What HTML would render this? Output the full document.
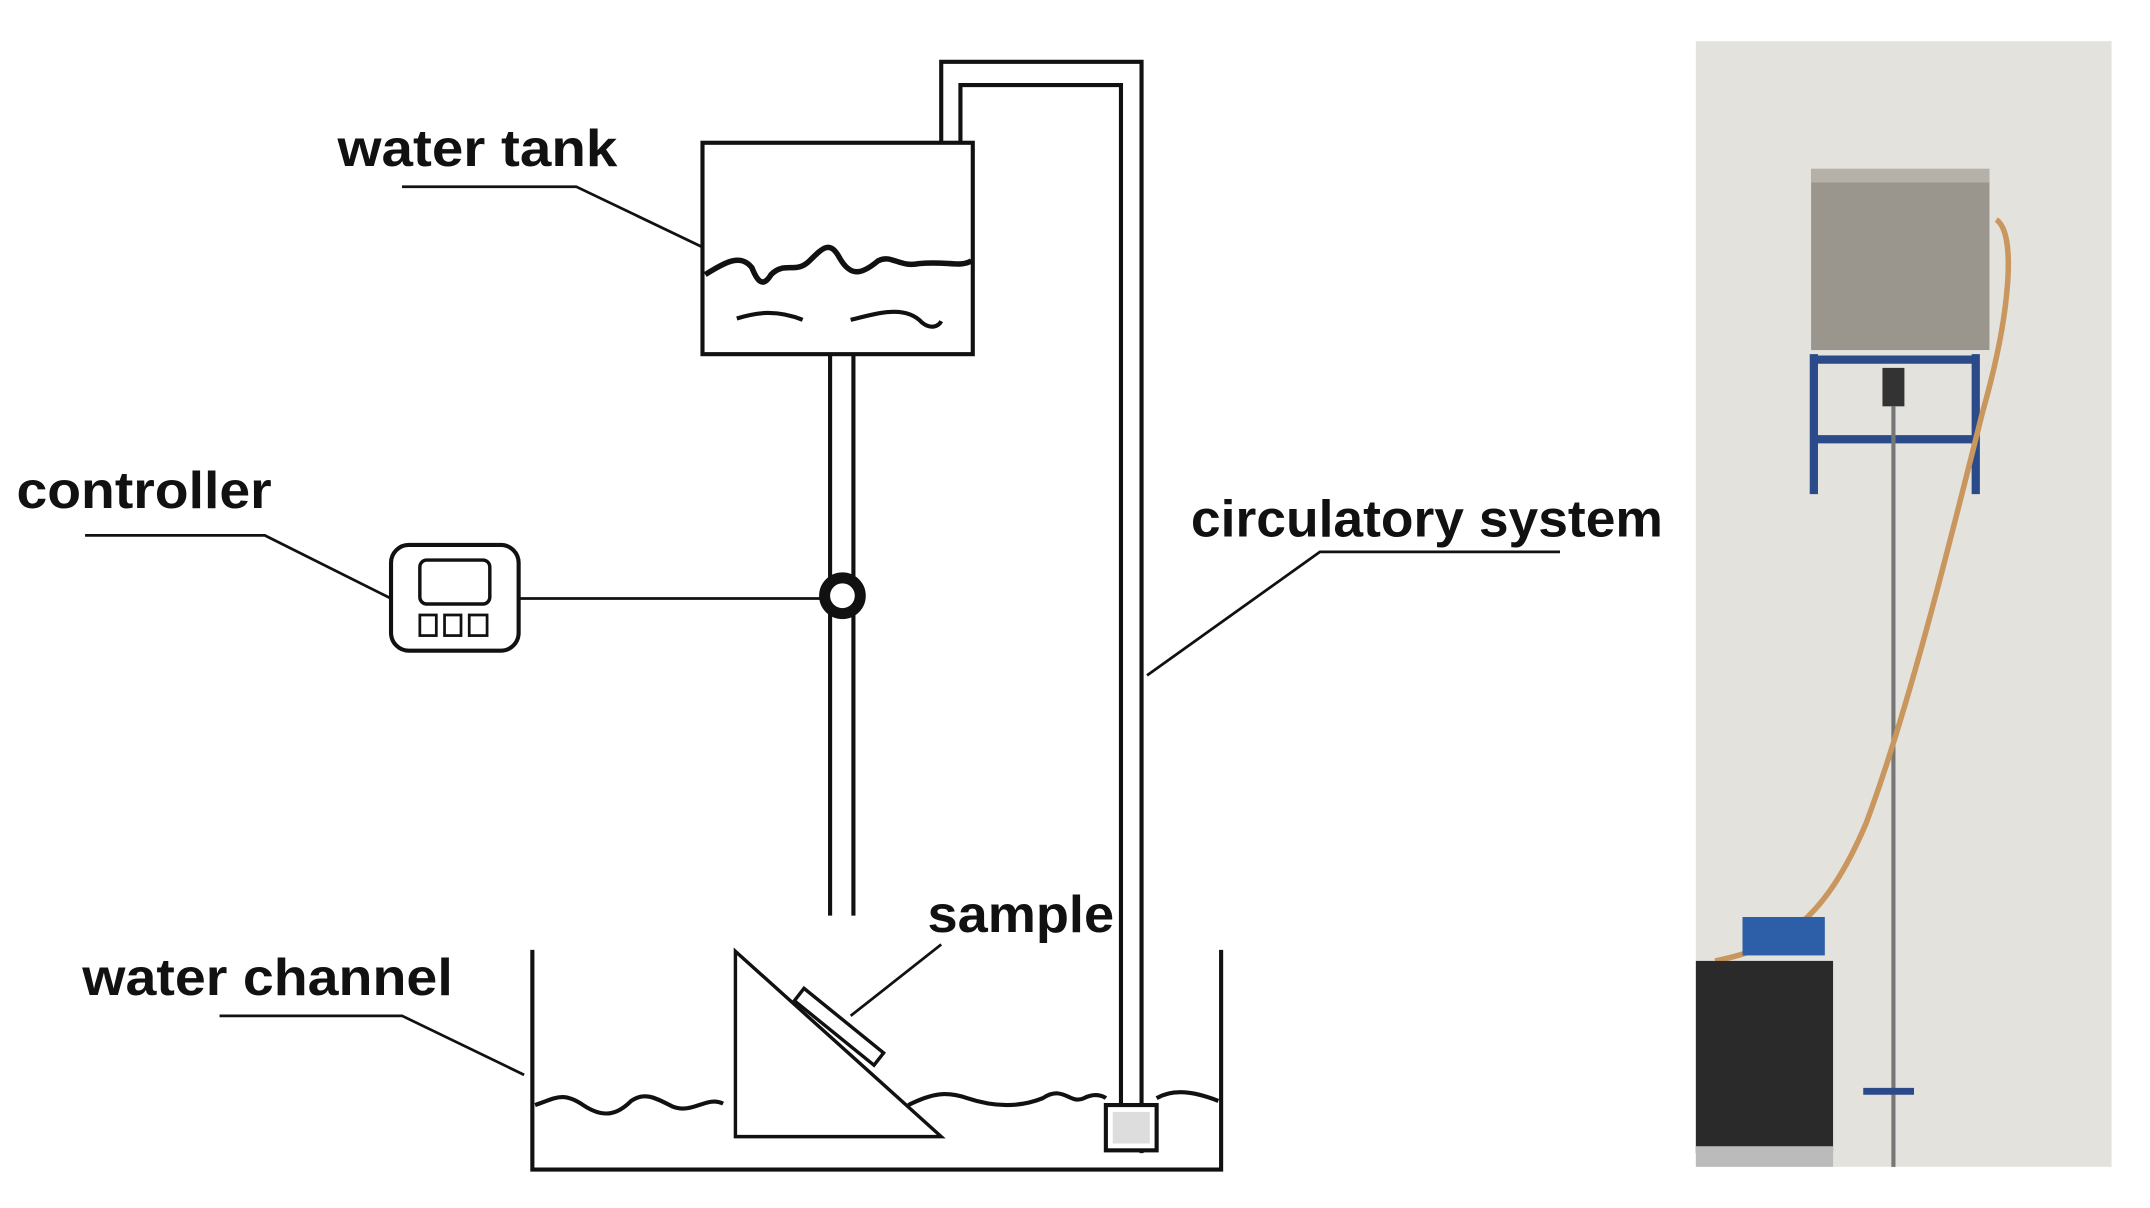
<!DOCTYPE html>
<html><head><meta charset="utf-8"><style>
html,body{margin:0;padding:0;background:#fff;}
svg{display:block;}
text{font-family:"Liberation Sans",sans-serif;font-weight:bold;font-size:38px;fill:#111;}
</style></head><body>
<svg width="2150" height="1208" viewBox="0 0 1567 880" preserveAspectRatio="none" xmlns="http://www.w3.org/2000/svg">
<g fill="none" stroke="#111" stroke-width="3">
<path d="M686,104 V45 H832 V840"/>
<path d="M700,104 V62 H817 V805"/>
<rect x="512" y="104" width="197" height="154"/>
<path d="M514,200 C530,190 540,185 548,195 C552,205 556,210 562,200 C572,190 580,200 590,190 C600,180 605,175 612,188 C620,202 628,200 640,190 C650,185 655,195 670,192 C690,190 700,195 708,190" stroke-width="4"/>
<path d="M537,232 C550,228 565,225 585,233" stroke-width="3"/>
<path d="M620,233 C640,228 660,222 672,235 C678,240 684,238 686,234" stroke-width="3"/>
<path d="M605,258 V667"/>
<path d="M622,258 V667"/>
<circle cx="614" cy="434" r="13" stroke-width="8" fill="#fff"/>
<rect x="285" y="397" width="93" height="77" rx="13"/>
<rect x="306" y="408" width="51" height="32" rx="5" stroke-width="2.5"/>
<rect x="306" y="448" width="12" height="15" stroke-width="2"/>
<rect x="324" y="448" width="12" height="15" stroke-width="2"/>
<rect x="342" y="448" width="13" height="15" stroke-width="2"/>
<path d="M378,436 H600" stroke-width="2"/>
<path d="M62,390 H193 L285,436" stroke-width="2"/>
<path d="M293,136 H420 L512,180" stroke-width="2"/>
<path d="M1137,402 H962 L836,492" stroke-width="2"/>
<path d="M686,688 L620,740" stroke-width="2"/>
<path d="M160,740 H293 L382,783" stroke-width="2"/>
<path d="M388,692 V852 H890 V692"/>
<path d="M390,805 C405,800 410,795 425,805 C440,815 450,812 460,802 C470,795 478,800 490,806 C505,812 515,798 527,804" stroke-width="3"/>
<path d="M662,805 C680,796 690,795 705,800 C720,805 740,808 760,800 C775,790 780,805 790,800 C800,795 806,800 806,800 M843,800 C855,793 870,795 888,802" stroke-width="3"/>
<path d="M536,693 V828 H686 Z" fill="#fff" stroke-width="2.5"/>
<path d="M586,720 L644,767 L637,776 L579,729 Z" fill="#fff" stroke-width="2.5"/>
<rect x="806" y="805" width="37" height="33" fill="#fff" stroke-width="3"/>
<rect x="811" y="810" width="27" height="23" fill="#ddd" stroke="none"/>
</g>
<text x="246" y="121" textLength="204" lengthAdjust="spacingAndGlyphs">water tank</text>
<text x="12" y="370" textLength="186" lengthAdjust="spacingAndGlyphs">controller</text>
<text x="868" y="391" textLength="344" lengthAdjust="spacingAndGlyphs">circulatory system</text>
<text x="676" y="679" textLength="136" lengthAdjust="spacingAndGlyphs">sample</text>
<text x="60" y="725" textLength="270" lengthAdjust="spacingAndGlyphs">water channel</text>
<g>
<rect x="1236" y="30" width="303" height="820" fill="#e4e2dd"/>
<rect x="1320" y="123" width="130" height="132" fill="#9a958d"/>
<rect x="1320" y="123" width="130" height="10" fill="#b5b0a8"/>
<path d="M1322,258 V360 M1440,258 V360 M1325,320 H1440 M1325,262 H1440" stroke="#2b4a8a" stroke-width="6" fill="none"/>
<rect x="1372" y="268" width="16" height="28" fill="#333"/>
<path d="M1380,296 V850" stroke="#777" stroke-width="3"/>
<path d="M1455,160 C1470,170 1465,230 1445,300 C1420,400 1390,520 1360,600 C1330,670 1300,690 1250,700" stroke="#c9965e" stroke-width="4" fill="none"/>
<rect x="1270" y="668" width="60" height="28" fill="#2d5fa8"/>
<rect x="1236" y="700" width="100" height="140" fill="#2a2a2a"/>
<rect x="1236" y="835" width="100" height="15" fill="#bbb"/>
<path d="M1358,795 H1395" stroke="#2b4a8a" stroke-width="5"/>
</g>
</svg>
</body></html>
